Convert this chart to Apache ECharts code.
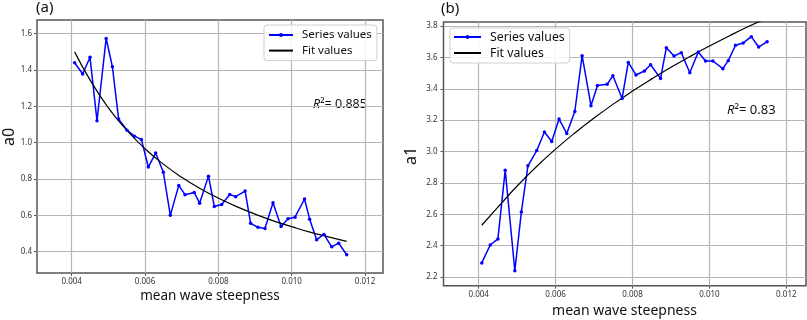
<!DOCTYPE html>
<html>
<head>
<meta charset="utf-8">
<script src="https://cdn.jsdelivr.net/npm/echarts@6/dist/echarts.min.js"></script>
<style>
html, body { margin: 0; padding: 0; background: #fff; }
#chart { width: 807px; height: 320px; }
</style>
</head>
<body>
<div id="chart"></div>
<script>
let chart = echarts.init(document.getElementById('chart'));

// mean wave steepness (same for both panels)
let steepness = [0.00408, 0.0043, 0.0045, 0.00469, 0.00494, 0.00511, 0.00528, 0.00551, 0.00571, 0.0059,
	0.00609, 0.00629, 0.0065, 0.00669, 0.00692, 0.00709, 0.00734, 0.00749, 0.00773, 0.00789,
	0.00809, 0.00831, 0.00847, 0.00873, 0.00888, 0.00908, 0.00927, 0.00949, 0.00971, 0.0099,
	0.01009, 0.01035, 0.01049, 0.01068, 0.01088, 0.01109, 0.01128, 0.0115];
let a0Values = [1.440, 1.378, 1.470, 1.121, 1.574, 1.418, 1.130, 1.069, 1.036, 1.018,
	0.866, 0.943, 0.837, 0.600, 0.765, 0.714, 0.726, 0.667, 0.816, 0.649,
	0.660, 0.715, 0.703, 0.734, 0.556, 0.534, 0.528, 0.670, 0.539, 0.582,
	0.590, 0.690, 0.579, 0.466, 0.495, 0.427, 0.447, 0.383];
let a1Values = [2.290, 2.404, 2.443, 2.881, 2.240, 2.615, 2.909, 3.006, 3.124, 3.064,
	3.207, 3.115, 3.255, 3.611, 3.292, 3.421, 3.428, 3.483, 3.338, 3.568,
	3.488, 3.513, 3.553, 3.466, 3.662, 3.609, 3.630, 3.502, 3.634, 3.577,
	3.577, 3.528, 3.579, 3.677, 3.692, 3.732, 3.666, 3.700];

// fit curves
let fitX = [0.00408, 0.0045, 0.005, 0.0055, 0.006, 0.0065, 0.007, 0.0075, 0.008, 0.0085, 0.009, 0.0095, 0.010, 0.0105, 0.011, 0.0115];
let fitA0 = [1.500, 1.346, 1.192, 1.069, 0.967, 0.882, 0.810, 0.748, 0.695, 0.648, 0.607, 0.570, 0.538, 0.508, 0.482, 0.457];
let fitA1 = [2.530, 2.645, 2.780, 2.903, 3.015, 3.118, 3.213, 3.302, 3.385, 3.463, 3.537, 3.606, 3.672, 3.735, 3.795, 3.850];

let r2Left = '0.885';
let r2Right = '0.83';

let font = 'Noto Sans';

function pairs(xs, ys) {
	return xs.map(function (x, i) { return [x, ys[i]]; });
}

function xAxisOf(grid, min, max, margin) {
	return {
		type: 'value', gridIndex: grid, min: min, max: max,
		minInterval: 0.002, maxInterval: 0.002,
		axisLine: { show: false },
		axisTick: { show: true, length: 3, lineStyle: { color: '#555' } },
		axisLabel: {
			showMinLabel: false, showMaxLabel: false, margin: margin,
			fontFamily: font, fontSize: 8, color: '#333',
			formatter: function (v) { return v.toFixed(3); }
		},
		splitLine: { show: true, showMinLine: false, showMaxLine: false, lineStyle: { color: '#b5b5b5', width: 1.2 } }
	};
}

function yAxisOf(grid, min, max, margin) {
	return {
		type: 'value', gridIndex: grid, min: min, max: max,
		minInterval: 0.2, maxInterval: 0.2,
		axisLine: { show: false },
		axisTick: { show: true, length: 3, lineStyle: { color: '#555' } },
		axisLabel: {
			showMinLabel: false, showMaxLabel: false, margin: margin,
			fontFamily: font, fontSize: 8, color: '#333',
			formatter: function (v) { return v.toFixed(1); }
		},
		splitLine: { show: true, showMinLine: false, showMaxLine: false, lineStyle: { color: '#b5b5b5', width: 1.2 } }
	};
}

function legendOf(left, top, size, gap, pad, width) {
	return {
		orient: 'vertical', left: left, top: top,
		data: ['Series values', { name: 'Fit values', itemStyle: { opacity: 0 } }],
		itemWidth: width, itemHeight: 5, itemGap: gap,
		padding: pad,
		borderColor: '#d0d0d0', borderWidth: 1, borderRadius: 3,
		backgroundColor: 'rgba(255,255,255,0.85)',
		textStyle: { fontFamily: font, fontSize: size, color: '#111', padding: [0, 0, 0, 4] }
	};
}

option = {
	animation: false,
	backgroundColor: '#fff',
	grid: [
		{ left: 37, top: 20, width: 346, height: 253, show: true, borderColor: '#555', borderWidth: 1.5, backgroundColor: 'transparent' },
		{ left: 443.5, top: 22, width: 362.5, height: 263.7, show: true, borderColor: '#555', borderWidth: 1.5, backgroundColor: 'transparent' }
	],
	xAxis: [
		xAxisOf(0, 0.003054, 0.01249, 5),
		xAxisOf(1, 0.003085, 0.012512, 5)
	],
	yAxis: [
		yAxisOf(0, 0.2828, 1.6754, 5),
		yAxisOf(1, 2.1446, 3.8255, 6)
	],
	legend: [
		legendOf(264, 25, 11.5, 3.6, [4, 5, 4, 4], 24),
		legendOf(450, 28, 12.3, 4, [3, 5, 4, 3], 27)
	],
	graphic: [
		{ type: 'text', left: 36, top: 0, style: { text: '(a)', font: '15px "Noto Sans"', fill: '#111' } },
		{ type: 'text', left: 441, top: 1, style: { text: '(b)', font: '15px "Noto Sans"', fill: '#111' } },
		{ type: 'text', x: 210, y: 296, style: { text: 'mean wave steepness', font: '13.5px "Noto Sans"', fill: '#111', align: 'center', verticalAlign: 'middle' } },
		{ type: 'text', x: 624.5, y: 311, style: { text: 'mean wave steepness', font: '14px "Noto Sans"', fill: '#111', align: 'center', verticalAlign: 'middle' } },
		{ type: 'text', x: 9, y: 137, rotation: Math.PI / 2, style: { text: 'a0', font: '16px "Noto Sans"', fill: '#111', align: 'center', verticalAlign: 'middle' } },
		{ type: 'text', x: 411, y: 156, rotation: Math.PI / 2, style: { text: 'a1', font: '16px "Noto Sans"', fill: '#111', align: 'center', verticalAlign: 'middle' } },
		{ type: 'text', x: 313, y: 104, style: {
			text: '{i|R}²= ' + r2Left, verticalAlign: 'middle', fill: '#111',
			font: '12.5px "Noto Sans"',
			rich: { i: { fontStyle: 'italic', fontFamily: font, fontSize: 12.5 } }
		} },
		{ type: 'text', x: 727, y: 110, style: {
			text: '{i|R}²= ' + r2Right, verticalAlign: 'middle', fill: '#111',
			font: '13px "Noto Sans"',
			rich: { i: { fontStyle: 'italic', fontFamily: font, fontSize: 13 } }
		} }
	],
	series: [
		{
			name: 'Series values', type: 'line', xAxisIndex: 0, yAxisIndex: 0,
			data: pairs(steepness, a0Values),
			symbol: 'circle', symbolSize: 3.5,
			itemStyle: { color: '#0000ff' },
			lineStyle: { color: '#0000ff', width: 1.5 }
		},
		{
			name: 'Fit values', type: 'line', xAxisIndex: 0, yAxisIndex: 0,
			data: pairs(fitX, fitA0), smooth: true,
			symbol: 'none',
			itemStyle: { color: '#000' },
			lineStyle: { color: '#000', width: 1.2 }
		},
		{
			name: 'Series values', type: 'line', xAxisIndex: 1, yAxisIndex: 1,
			data: pairs(steepness, a1Values),
			symbol: 'circle', symbolSize: 3.5,
			itemStyle: { color: '#0000ff' },
			lineStyle: { color: '#0000ff', width: 1.5 }
		},
		{
			name: 'Fit values', type: 'line', xAxisIndex: 1, yAxisIndex: 1,
			data: pairs(fitX, fitA1), smooth: true,
			symbol: 'none', clip: true,
			itemStyle: { color: '#000' },
			lineStyle: { color: '#000', width: 1.2 }
		}
	]
};

chart.setOption(option, true);
</script>
</body>
</html>
